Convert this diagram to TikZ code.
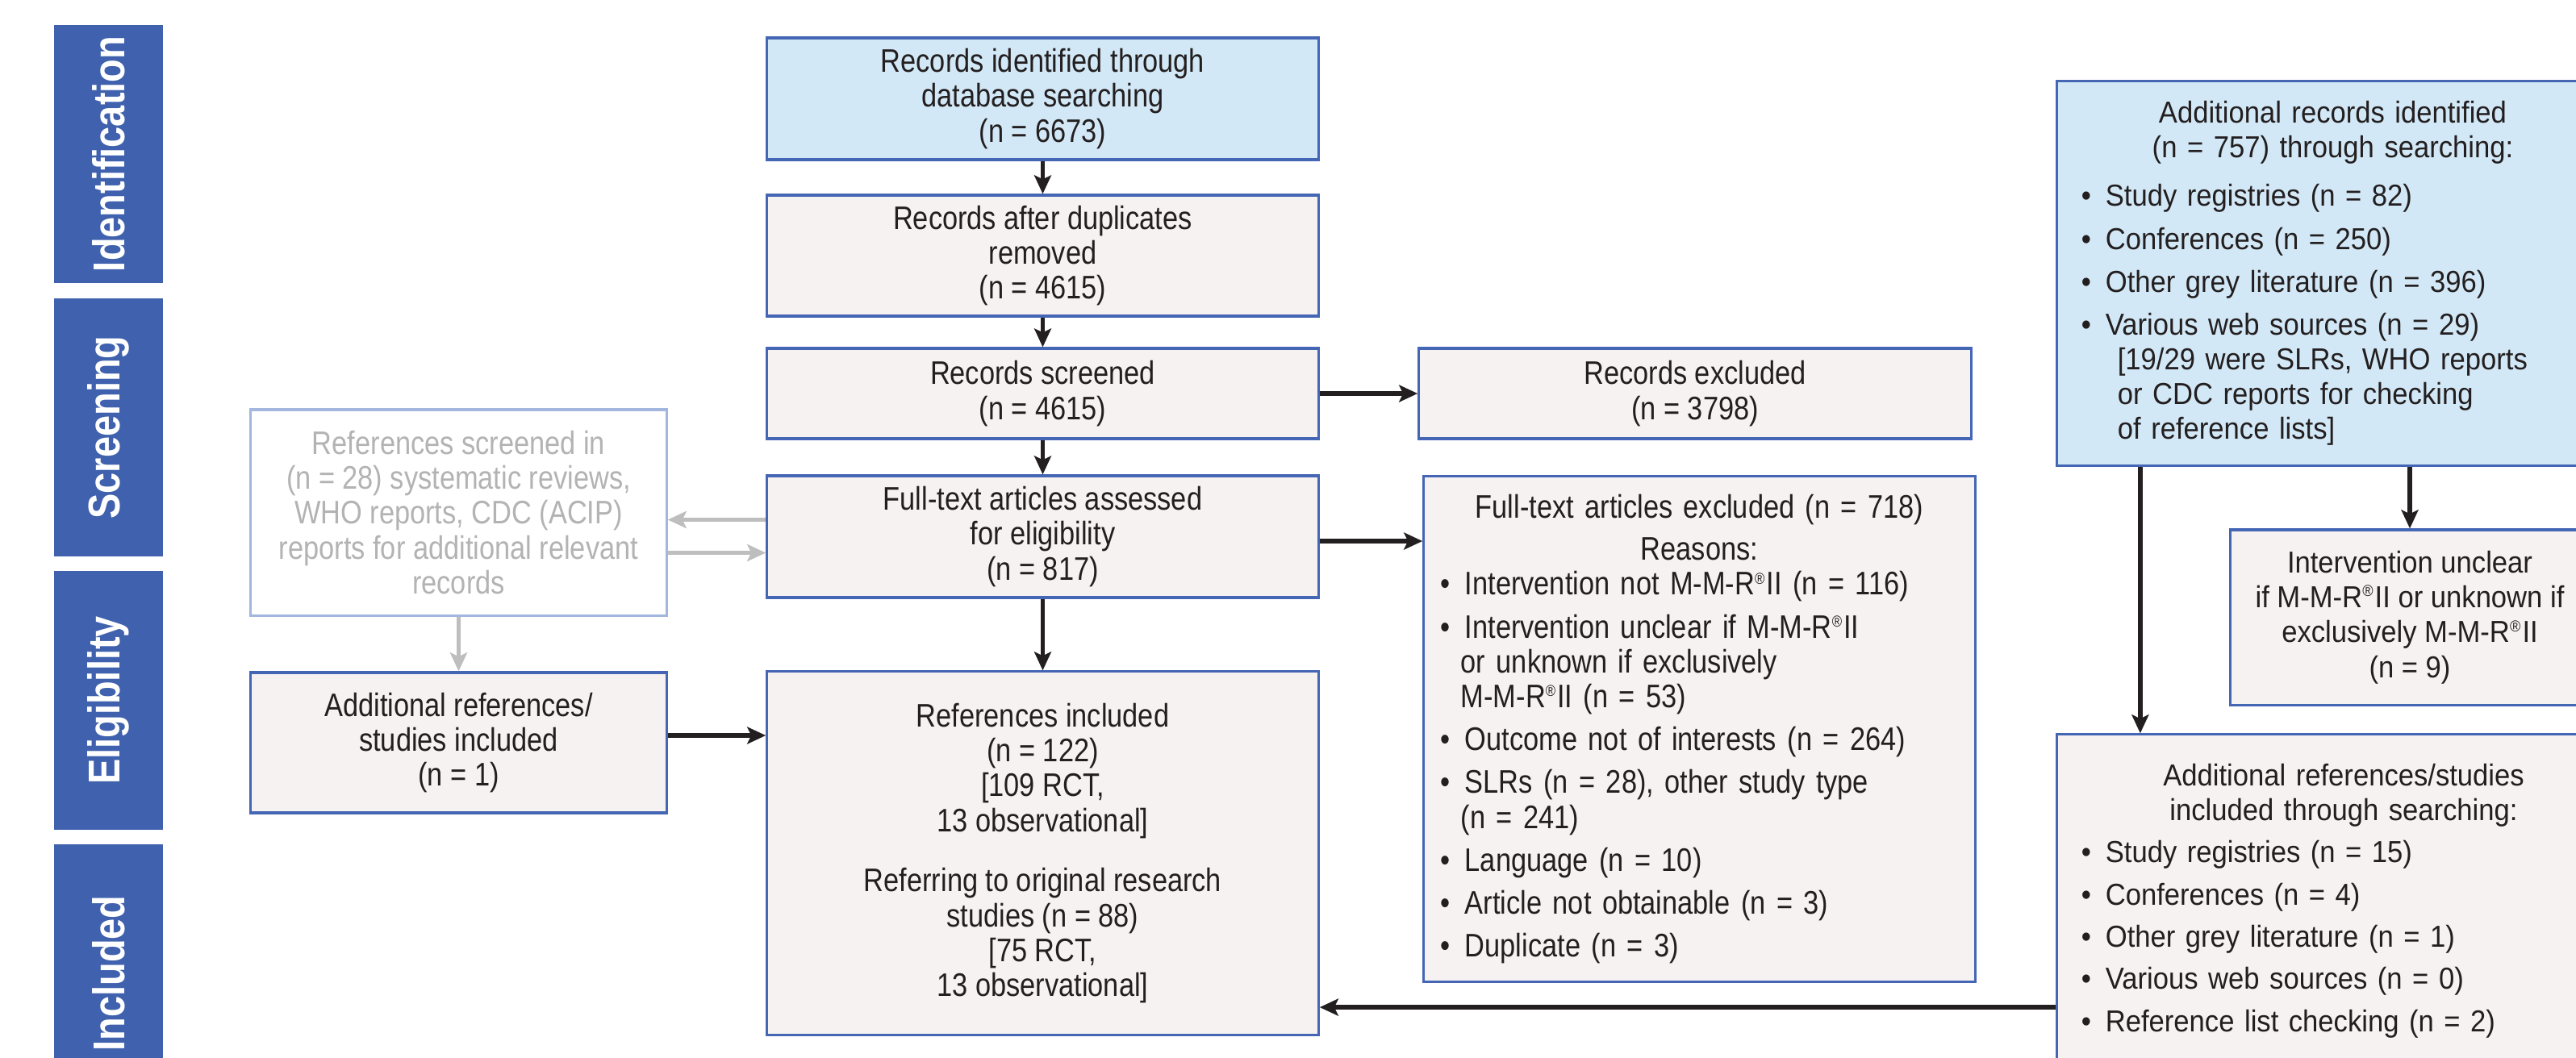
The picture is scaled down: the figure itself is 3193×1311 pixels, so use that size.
\documentclass[tikz,border=0pt]{standalone}
\usepackage{fontspec}
\setmainfont{Liberation Sans}
\newfontfamily\narrowfont{Liberation Sans}[FakeStretch=0.85]
\newfontfamily\sidefont{Liberation Sans}[FakeStretch=0.92]
\usetikzlibrary{arrows.meta}

\definecolor{barblue}{HTML}{4062AE}
\definecolor{boxblue}{HTML}{4466B4}
\definecolor{boxlight}{HTML}{D3E8F6}
\definecolor{boxgray}{HTML}{F5F2F1}
\definecolor{fadeblue}{HTML}{A3B6DD}
\definecolor{fadetext}{HTML}{B3B3B3}
\definecolor{fadearrow}{HTML}{BEBEBE}
\definecolor{inkblack}{HTML}{231F20}

\setlength{\parindent}{0pt}
\newcommand{\mmr}{M-M-R\raisebox{3.9pt}{\fontsize{5.6}{6}\selectfont\textregistered}\hspace{0.6pt}II}
\newcommand{\bul}{\makebox[0.3cm][l]{\textbullet}}

\begin{document}
\begin{tikzpicture}[x=0.01cm, y=-0.01cm,
  flowbox/.style={draw=boxblue, line width=0.9pt, fill=boxgray, inner sep=0pt, align=center,
    text=inkblack, font=\narrowfont\fontsize{11.5}{12.3}\selectfont},
  sidebox/.style={flowbox, font=\sidefont\fontsize{10.7}{12.3}\selectfont},
  fadebox/.style={flowbox, draw=fadeblue, fill=white, text=fadetext},
  phase/.style={fill=barblue, text=white, rotate=90, inner sep=0pt, minimum width=3.2cm,
    minimum height=1.35cm, font=\narrowfont\bfseries\fontsize{15.7}{16}\selectfont},
  arr/.style={draw=inkblack, line width=1.2pt, -{Stealth[length=0.23cm, width=0.21cm, inset=0.05cm]}},
  harr/.style={arr, line width=1.6pt},
  fadearr/.style={draw=fadearrow, line width=1.5pt, -{Stealth[length=0.23cm, width=0.21cm, inset=0.05cm]}}
]
  \path[use as bounding box, fill=white] (0,0) rectangle (3193,1311);
  \clip (0,0) rectangle (3193,1311);

  \foreach \name/\txt/\y in {phid/Identification/191, phscr/Screening/530,
                             phelig/Eligibility/868.5, phincl/Included/1207} {
    \node[phase] (\name) at (134.5,\y) {\txt};
  }

  \node[flowbox, fill=boxlight, minimum width=6.83cm, minimum height=1.51cm] (ident) at (1292.5,122.5)
    {Records identified through\\database searching\\(n = 6673)};
  \node[flowbox, minimum width=6.83cm, minimum height=1.5cm] (dedup) at (1292.5,317)
    {Records after duplicates\\removed\\(n = 4615)};
  \node[flowbox, minimum width=6.83cm, minimum height=1.12cm] (screened) at (1292.5,488)
    {Records screened\\(n = 4615)};
  \node[flowbox, minimum width=6.83cm, minimum height=1.51cm] (assessed) at (1292.5,665.5)
    {Full-text articles assessed\\for eligibility\\(n = 817)};
  \node[flowbox, minimum width=6.83cm, minimum height=4.5cm] (included) at (1292.5,1058)
    {References included\\(n = 122)\\{[}109 RCT,\\13 observational{]}\\[9pt]
     Referring to original research\\studies (n = 88)\\{[}75 RCT,\\13 observational{]}};

  \node[flowbox, minimum width=6.84cm, minimum height=1.12cm] (excluded) at (2101,488)
    {Records excluded\\(n = 3798)};
  \node[flowbox, minimum width=6.83cm, minimum height=6.26cm, text width=6.41cm, align=left] (ftexcl) at (2106.5,904)
    {{\centering Full-text articles excluded (n = 718)\\[2.5pt]Reasons:\par}
     \bul Intervention not \mmr\ (n = 116)\\[2.8pt]
     \bul Intervention unclear if \mmr\\
     \hspace*{0.25cm}or unknown if exclusively\\
     \hspace*{0.25cm}\mmr\ (n = 53)\\[2.8pt]
     \bul Outcome not of interests (n = 264)\\[2.8pt]
     \bul SLRs (n = 28), other study type\\
     \hspace*{0.25cm}(n = 241)\\[2.8pt]
     \bul Language (n = 10)\\[2.8pt]
     \bul Article not obtainable (n = 3)\\[2.8pt]
     \bul Duplicate (n = 3)};

  \node[fadebox, minimum width=5.15cm, minimum height=2.55cm] (refscreen) at (568.5,635.5)
    {References screened in\\(n = 28) systematic reviews,\\WHO reports, CDC (ACIP)\\reports for additional relevant\\records};
  \node[flowbox, minimum width=5.15cm, minimum height=1.74cm] (addref) at (568.5,921)
    {Additional references/\\studies included\\(n = 1)};

  \node[sidebox, fill=boxlight, minimum width=6.83cm, minimum height=4.76cm, text width=6.23cm, align=left] (addrec) at (2891.5,339)
    {{\centering Additional records identified\\(n = 757) through searching:\par}\vspace{4.8pt}
     \bul Study registries (n = 82)\\[2.8pt]
     \bul Conferences (n = 250)\\[2.8pt]
     \bul Other grey literature (n = 396)\\[2.8pt]
     \bul Various web sources (n = 29)\\
     \hspace*{0.45cm}{[}19/29 were SLRs, WHO reports\\
     \hspace*{0.45cm}or CDC reports for checking\\
     \hspace*{0.45cm}of reference lists{]}};
  \node[sidebox, minimum width=4.44cm, minimum height=2.17cm] (unclear) at (2987,765.5)
    {Intervention unclear\\if \mmr\ or unknown if\\exclusively \mmr\\(n = 9)};
  \node[sidebox, minimum width=7.1cm, minimum height=4.12cm, text width=6.5cm, align=left] (addinc) at (2905,1117)
    {{\centering Additional references/studies\\included through searching:\par}\vspace{2.6pt}
     \bul Study registries (n = 15)\\[2.6pt]
     \bul Conferences (n = 4)\\[2.6pt]
     \bul Other grey literature (n = 1)\\[2.6pt]
     \bul Various web sources (n = 0)\\[2.6pt]
     \bul Reference list checking (n = 2)};

  \draw[arr] (ident) -- (dedup);
  \draw[arr] (dedup) -- (screened);
  \draw[arr] (screened) -- (assessed);
  \draw[arr] (assessed) -- (included);
  \draw[harr] (screened) -- (excluded);
  \draw[harr] ([yshift=-0.055cm]assessed.east) -- ([yshift=-0.055cm]assessed.east -| ftexcl.west);
  \draw[fadearr] ([yshift=0.21cm]assessed.west) -- ([yshift=0.21cm]assessed.west -| refscreen.east);
  \draw[fadearr] ([yshift=-0.2cm]assessed.west -| refscreen.east) -- ([yshift=-0.2cm]assessed.west);
  \draw[fadearr] (refscreen) -- (addref);
  \draw[harr] ([yshift=0.09cm]addref.east) -- ([yshift=0.09cm]addref.east -| included.west);
  \draw[harr] ([xshift=-2.385cm]addrec.south) -- ([xshift=-2.385cm]addrec.south |- addinc.north);
  \draw[harr] (addrec.south -| unclear.north) -- (unclear.north);
  \draw[harr] ([yshift=-1.32cm]addinc.west) -- ([yshift=-1.32cm]addinc.west -| included.east);
\end{tikzpicture}
\end{document}
